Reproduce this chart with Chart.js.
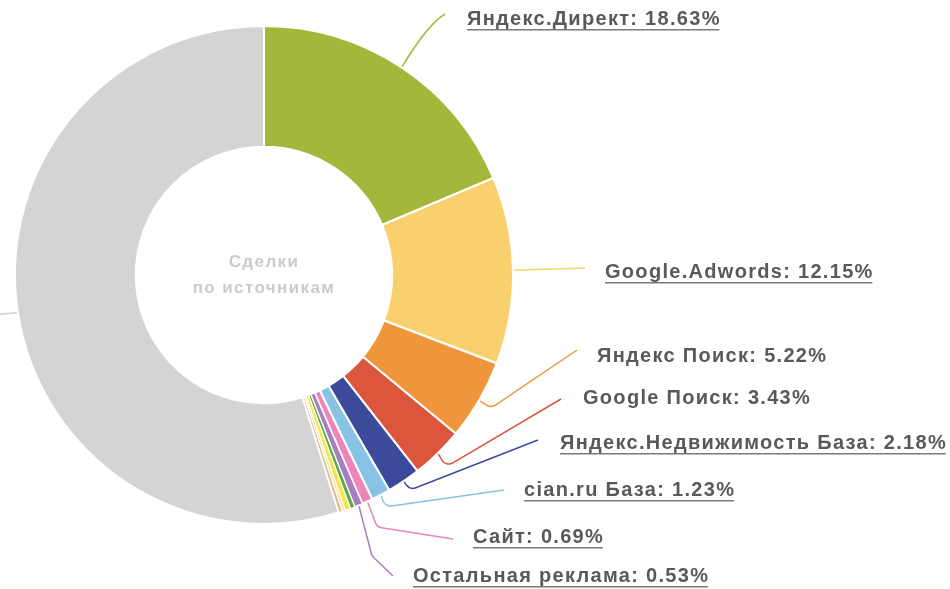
<!DOCTYPE html>
<html>
<head>
<meta charset="utf-8">
<script src="https://cdn.jsdelivr.net/npm/chart.js@4"></script>
<style>
  html, body { margin: 0; padding: 0; background: #fff; }
  #wrap { width: 950px; height: 589px; position: relative; }
</style>
</head>
<body>
<div id="wrap"><canvas id="chart"></canvas></div>
<script>
// данные
const sources = [
  "Яндекс.Директ", "Google.Adwords", "Яндекс Поиск", "Google Поиск",
  "Яндекс.Недвижимость База", "cian.ru База", "Сайт", "Остальная реклама",
  "Прочее 1", "Прочее 2", "Прочее 3", "Прочее 4", "Прочее"
];
const shares = [18.63, 12.15, 5.22, 3.43, 2.18, 1.23, 0.69, 0.53, 0.3, 0.35, 0.2, 0.25, 54.84];
const sliceColors = [
  "#a3b83b", "#fad06f", "#ef963d", "#dc563e", "#3c4a9c", "#88c2e5", "#ea86b9", "#a87dc2",
  "#5ba846", "#f0e84c", "#f2e8a2", "#e8b48c", "#d5d3d4"
];
const underlined = [true, true, false, false, true, true, true, true];

// где подписи: изгиб/контрольная точка, конец линии, текст
const labelLayout = [
  { ctrl: [428, 24], end: [445, 14], tx: 467, ty: 19 },
  { ctrl: null, end: [585, 268], tx: 605, ty: 272 },
  { elbow: [491, 408], end: [577, 350], tx: 597, ty: 356 },
  { elbow: [446, 467], end: [561, 399], tx: 583, ty: 398 },
  { elbow: [410, 490], end: [538, 440], tx: 560, ty: 443 },
  { elbow: [385, 507], end: [504, 490], tx: 524, ty: 490 },
  { elbow: [377, 527], end: [453, 539], tx: 473, ty: 537 },
  { elbow: [372, 556], end: [393, 576], tx: 413, ty: 576 }
];

const leaders = {
  id: "leaders",
  afterDraw(chart) {
    const ctx = chart.ctx;
    const arcs = chart.getDatasetMeta(0).data;
    ctx.save();
    ctx.lineWidth = 1.5;
    arcs.forEach((arc, i) => {
      const p = arc.getProps(["x", "y", "startAngle", "endAngle", "outerRadius"], true);
      const mid = (p.startAngle + p.endAngle) / 2;
      const sx = p.x + Math.cos(mid) * (p.outerRadius + 1);
      const sy = p.y + Math.sin(mid) * (p.outerRadius + 1);
      ctx.strokeStyle = sliceColors[i];
      // серый сегмент: линия уходит за левый край
      if (i === sources.length - 1) {
        ctx.beginPath();
        ctx.moveTo(sx, sy);
        ctx.lineTo(-10, sy + 2);
        ctx.stroke();
        return;
      }
      const lay = labelLayout[i];
      if (!lay) return;
      ctx.beginPath();
      ctx.moveTo(sx, sy);
      if (lay.ctrl) {
        ctx.quadraticCurveTo(lay.ctrl[0], lay.ctrl[1], lay.end[0], lay.end[1]);
      } else if (lay.elbow) {
        ctx.arcTo(lay.elbow[0], lay.elbow[1], lay.end[0], lay.end[1], 8);
        ctx.lineTo(lay.end[0], lay.end[1]);
      } else {
        ctx.lineTo(lay.end[0], lay.end[1]);
      }
      ctx.stroke();

      const text = sources[i] + ": " + shares[i].toFixed(2) + "%";
      ctx.font = 'bold 20px "Liberation Sans", Arial, sans-serif';
      ctx.letterSpacing = "1.3px";
      ctx.fillStyle = "#595959";
      ctx.textBaseline = "middle";
      ctx.textAlign = "left";
      ctx.fillText(text, lay.tx, lay.ty);
      if (underlined[i]) {
        const w = ctx.measureText(text).width - 1.3;
        ctx.fillStyle = "#7a7a7a";
        ctx.fillRect(lay.tx, lay.ty + 10, w, 1.5);
      }
    });

    // подпись в центре
    const c = arcs[0];
    ctx.font = 'bold 17px "Liberation Sans", Arial, sans-serif';
    ctx.letterSpacing = "1.4px";
    ctx.fillStyle = "#cbcbcb";
    ctx.textAlign = "center";
    ctx.textBaseline = "middle";
    ctx.fillText("Сделки", c.x, 262);
    ctx.fillText("по источникам", c.x, 288);
    ctx.restore();
  }
};

new Chart(document.getElementById("chart"), {
  type: "doughnut",
  data: {
    labels: sources,
    datasets: [{
      data: shares,
      backgroundColor: sliceColors,
      borderColor: "#ffffff",
      borderWidth: [2, 2, 2, 2, 2, 2, 2, 1.5, 1.2, 1.2, 1.2, 1.2, 2],
      hoverOffset: 0
    }]
  },
  options: {
    responsive: true,
    maintainAspectRatio: false,
    animation: false,
    cutout: "51.5%",
    layout: { padding: { left: 14, top: 25, right: 436, bottom: 64 } },
    plugins: {
      legend: { display: false },
      tooltip: { enabled: false }
    }
  },
  plugins: [leaders]
});
</script>
</body>
</html>
